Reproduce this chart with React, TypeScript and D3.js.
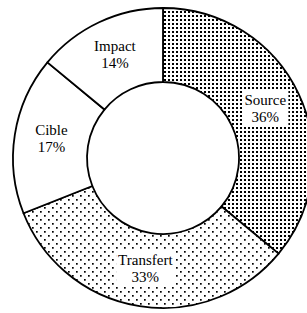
import React, { useEffect, useRef } from 'react';
import * as d3 from 'd3';

const categories = ['Source', 'Transfert', 'Cible', 'Impact'];
const values = [36, 33, 17, 14];
const fills = ['url(#dense)', 'url(#sparse)', '#ffffff', '#ffffff'];

const width = 307;
const height = 313;
const cx = 163;
const cy = 158;
const outerR = 150;
const innerR = 76;

export default function App() {
  const svgRef = useRef<SVGSVGElement | null>(null);

  useEffect(() => {
    if (!svgRef.current) return;
    const svg = d3.select(svgRef.current);
    svg.selectAll('*').remove();

    const defs = svg.append('defs');
    // dense dot screen for Source
    const dense = defs
      .append('pattern')
      .attr('id', 'dense')
      .attr('patternUnits', 'userSpaceOnUse')
      .attr('width', 4)
      .attr('height', 4);
    dense.append('rect').attr('width', 4).attr('height', 4).attr('fill', '#fff');
    dense.append('rect').attr('x', 1).attr('y', 1).attr('width', 2).attr('height', 2).attr('fill', '#000');

    // sparse staggered dots for Transfert
    const sparse = defs
      .append('pattern')
      .attr('id', 'sparse')
      .attr('patternUnits', 'userSpaceOnUse')
      .attr('width', 8)
      .attr('height', 8);
    sparse.append('rect').attr('width', 8).attr('height', 8).attr('fill', '#fff');
    sparse.append('rect').attr('x', 1).attr('y', 1).attr('width', 1.7).attr('height', 1.7).attr('fill', '#000');
    sparse.append('rect').attr('x', 5).attr('y', 5).attr('width', 1.7).attr('height', 1.7).attr('fill', '#000');

    const pie = d3
      .pie<number>()
      .sort(null)
      .value((d) => d);
    const arcs = pie(values);
    const arc = d3.arc<d3.PieArcDatum<number>>().innerRadius(innerR).outerRadius(outerR);

    const g = svg.append('g').attr('transform', `translate(${cx},${cy})`);

    g.selectAll('path.slice')
      .data(arcs)
      .enter()
      .append('path')
      .attr('class', 'slice')
      .attr('d', arc)
      .attr('fill', (_, i) => fills[i])
      .attr('stroke', '#000')
      .attr('stroke-width', 1.8)
      .attr('stroke-linejoin', 'round');

    const labels = g
      .selectAll('g.label')
      .data(arcs)
      .enter()
      .append('g')
      .attr('class', 'label')
      .attr('transform', (d) => `translate(${arc.centroid(d)})`);

    labels.each(function (d, i) {
      const lg = d3.select(this);
      const bg = lg.append('rect').attr('fill', '#fff');
      const t = lg
        .append('text')
        .attr('text-anchor', 'middle')
        .attr('font-family', '"Liberation Serif", "DejaVu Serif", serif')
        .attr('font-size', 15)
        .attr('fill', '#000');
      t.append('tspan').attr('x', 0).attr('y', -5).text(categories[i]);
      t.append('tspan').attr('x', 0).attr('y', 12).text(`${d.value}%`);
      const bb = (t.node() as SVGTextElement).getBBox();
      bg.attr('x', bb.x - 2)
        .attr('y', bb.y - 1)
        .attr('width', bb.width + 4)
        .attr('height', bb.height + 2);
    });
  }, []);

  return (
    <svg
      ref={svgRef}
      width={width}
      height={height}
      style={{ position: 'absolute', left: 0, top: 0, background: '#fff' }}
    />
  );
}
